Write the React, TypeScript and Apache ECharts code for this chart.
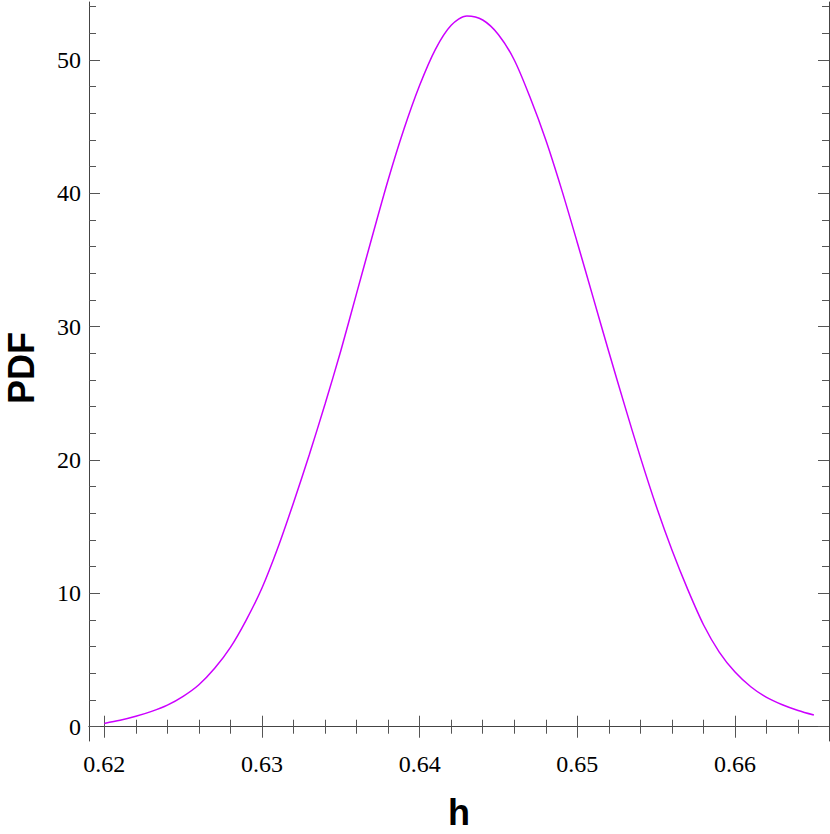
import React, { useEffect, useRef } from "react";
import * as echarts from "echarts";

const hValues = [
  0.62, 0.621, 0.622, 0.623, 0.624, 0.625, 0.626, 0.627, 0.628, 0.629,
  0.63, 0.631, 0.632, 0.633, 0.634, 0.635, 0.636, 0.637, 0.638, 0.639,
  0.64, 0.641, 0.642, 0.643, 0.644, 0.645, 0.646, 0.647, 0.648, 0.649,
  0.65, 0.651, 0.652, 0.653, 0.654, 0.655, 0.656, 0.657, 0.658, 0.659,
  0.66, 0.661, 0.662, 0.663, 0.664, 0.665,
];
const pdfValues = [
  0.25, 0.48, 0.78, 1.15, 1.62, 2.28, 3.15, 4.38, 5.95, 8.0,
  10.4, 13.4, 16.8, 20.4, 24.2, 28.2, 32.5, 36.8, 41.0, 44.8,
  48.1, 50.8, 52.6, 53.3, 53.0, 51.9, 50.0, 47.2, 44.0, 40.3,
  36.3, 32.2, 28.1, 24.1, 20.2, 16.55, 13.25, 10.3, 7.65, 5.6,
  4.1, 3.0, 2.2, 1.65, 1.22, 0.88,
];
const xMajorTicks = [0.62, 0.63, 0.64, 0.65, 0.66];
const xMinorTicks = [
  0.622, 0.624, 0.626, 0.628, 0.632, 0.634, 0.636, 0.638, 0.642, 0.644, 0.646,
  0.648, 0.652, 0.654, 0.656, 0.658, 0.662, 0.664,
];
const yMajorTicks = [0, 10, 20, 30, 40, 50];
const yMinorTicks = [2, 4, 6, 8, 12, 14, 16, 18, 22, 24, 26, 28, 32, 34, 36, 38, 42, 44, 46, 48, 52, 54];

const X_MIN = 0.61903;
const X_MAX = 0.66596;
const Y_MIN = -1.07;
const Y_MAX = 54.35;

const FRAME = "#444444";
const TICK = "#555555";
const SERIF = "Liberation Serif";
const SANS = "Liberation Sans";

function xAxisDef(position: "top" | "bottom", ticks: number[], len: number, labels: boolean, line: boolean) {
  return {
    type: "value",
    min: X_MIN,
    max: X_MAX,
    position,
    axisLine: { show: line, lineStyle: { color: FRAME, width: 1 } },
    axisTick: { show: true, inside: true, length: len, customValues: ticks, lineStyle: { color: TICK, width: 1 } },
    axisLabel: labels
      ? {
          show: true,
          customValues: ticks,
          margin: 11,
          color: "#000",
          fontFamily: SERIF,
          fontSize: 24,
          formatter: (v: number) => v.toFixed(2),
        }
      : { show: false },
    splitLine: { show: false },
  };
}

function yAxisDef(position: "left" | "right", ticks: number[], len: number, labels: boolean, line: boolean) {
  return {
    type: "value",
    min: Y_MIN,
    max: Y_MAX,
    position,
    axisLine: { show: line, lineStyle: { color: FRAME, width: 1 } },
    axisTick: { show: true, inside: true, length: len, customValues: ticks, lineStyle: { color: TICK, width: 1 } },
    axisLabel: labels
      ? {
          show: true,
          customValues: ticks,
          margin: 8,
          color: "#000",
          fontFamily: SERIF,
          fontSize: 24,
          formatter: (v: number) => String(Math.round(v)),
        }
      : { show: false },
    splitLine: { show: false },
  };
}

export default function App() {
  const ref = useRef<HTMLDivElement>(null);
  useEffect(() => {
    if (!ref.current) return;
    const chart = echarts.init(ref.current, null, { renderer: "svg" });
    const data = hValues.map((h, i) => [h, pdfValues[i]]);
    chart.setOption({
      animation: false,
      backgroundColor: "#fff",
      grid: { left: 89, top: 2, right: 1, bottom: 93, containLabel: false },
      xAxis: [
        xAxisDef("bottom", xMajorTicks, 11, true, true),
        xAxisDef("bottom", xMinorTicks, 7, false, false),
        xAxisDef("top", xMajorTicks, 11, false, true),
        xAxisDef("top", xMinorTicks, 7, false, false),
      ],
      yAxis: [
        yAxisDef("left", yMajorTicks, 11, true, true),
        yAxisDef("left", yMinorTicks, 7, false, false),
        yAxisDef("right", yMajorTicks, 11, false, true),
        yAxisDef("right", yMinorTicks, 7, false, false),
      ],
      series: [
        {
          type: "line",
          xAxisIndex: 0,
          yAxisIndex: 0,
          data,
          smooth: 0.3,
          showSymbol: false,
          symbol: "none",
          lineStyle: { color: "#cc00ff", width: 1.5 },
        },
      ],
      graphic: [
        {
          type: "text",
          x: 21,
          y: 368,
          rotation: Math.PI / 2,
          style: {
            text: "PDF",
            fontFamily: SANS,
            fontWeight: "bold",
            fontSize: 36,
            fill: "#000",
            align: "center",
            verticalAlign: "middle",
          },
        },
        {
          type: "text",
          x: 459,
          y: 812,
          style: {
            text: "h",
            fontFamily: SANS,
            fontWeight: "bold",
            fontSize: 36,
            fill: "#000",
            align: "center",
            verticalAlign: "middle",
          },
        },
      ],
    });
    return () => chart.dispose();
  }, []);
  return (
    <div
      ref={ref}
      style={{ position: "fixed", left: 0, top: 0, width: 830, height: 834, background: "#fff" }}
    />
  );
}
